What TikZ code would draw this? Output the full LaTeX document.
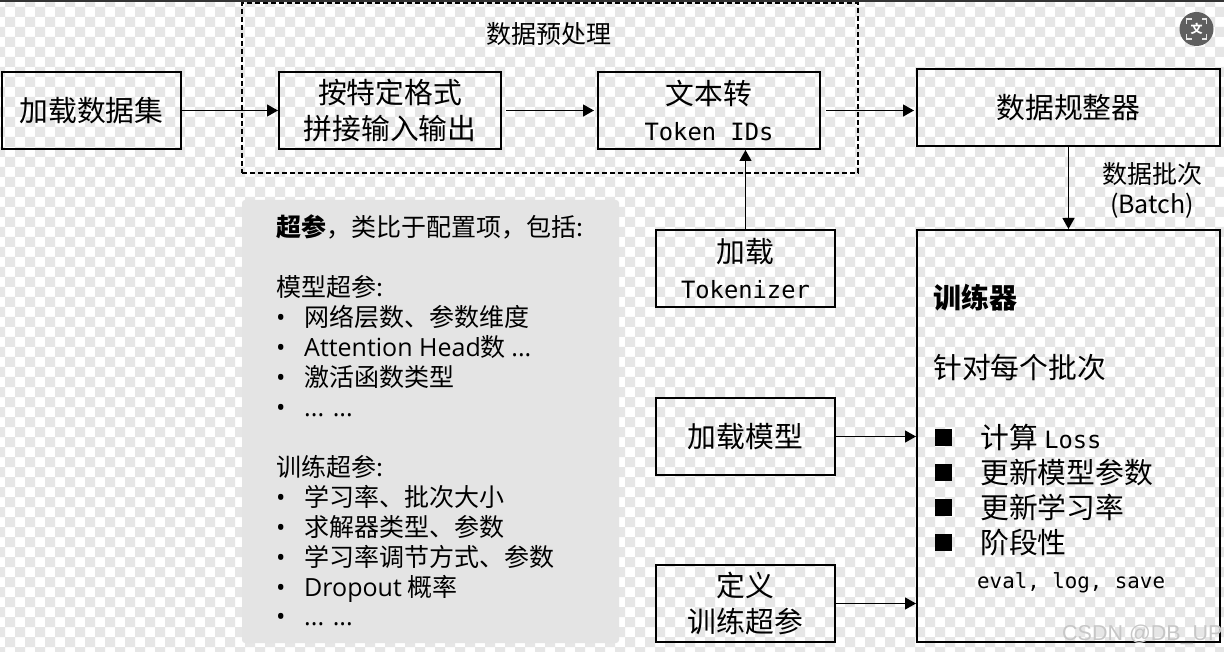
\documentclass[tikz,border=0pt]{standalone}
\usepackage{fontspec}
\usepackage{xcolor}
\usepackage{tikz}
\usetikzlibrary{arrows.meta}
\setmainfont{Noto Sans CJK SC}
\newfontfamily\tokenfam{DejaVu Sans Mono}
\newfontfamily\panelfam{Open Sans}
\newfontfamily\markfam{Liberation Sans}
\definecolor{checkgray}{RGB}{230,230,230}
\definecolor{panelgray}{RGB}{228,228,228}
\definecolor{icongray}{RGB}{95,95,95}
\newcommand{\tok}[1]{{\fontsize{23.8}{36}\selectfont\tokenfam #1}}
\newcommand{\hpitem}[1]{\makebox[28pt][l]{\panelfam •}#1}
\tikzset{
  databox/.style={draw=black, line width=2pt, align=center, inner sep=0pt,
    font=\fontsize{28.8}{36}\selectfont},
  flow/.style={-{Triangle[length=11pt,width=12pt]}, line width=1.2pt, black},
  trainline/.style={anchor=base west, inner sep=0pt, font=\fontsize{28.8}{36}\selectfont},
  hpline/.style={anchor=base west, inner sep=0pt, font=\fontsize{25}{30}\selectfont},
  tick/.style={fill=black, minimum size=17pt, inner sep=0pt}
}
\begin{document}
\begin{tikzpicture}[x=1pt,y=-1pt]
\clip (0,0) rectangle (1224,652);
\fill[white] (0,0) rectangle (1224,652);
\foreach \r [evaluate=\r as \rowshift using {5-10*mod(\r,2)}] in {0,...,66}
  \fill[checkgray] \foreach \c in {0,...,62} { ({\rowshift+20*\c},{10*\r-3}) rectangle +(10,10) };
\fill[black!80] (0,0) rectangle (1224,2);

\node[draw=black, line width=2pt, dash pattern=on 5pt off 3pt, minimum width=616pt, minimum height=170pt, inner sep=0pt] (preproc) at (550,88) {};
\node[font=\fontsize{25}{30}\selectfont] (preproclabel) at (548.5,34) {数据预处理};

\node[databox, minimum width=179pt, minimum height=77pt] (loaddata) at (91.5,110.5) {加载数据集};
\node[databox, minimum width=222pt, minimum height=77pt] (joinio) at (390,110.5) {按特定格式\\拼接输入输出};
\node[databox, minimum width=222pt, minimum height=77pt] (totokens) at (709,110.5) {文本转\\\tok{Token IDs}};
\node[databox, minimum width=303pt, minimum height=77pt] (collator) at (1068.5,107.5) {数据规整器};
\node[databox, minimum width=179pt, minimum height=77pt] (tokenizer) at (745.5,268.5) {加载\\\tok{Tokenizer}};
\node[databox, minimum width=179pt, minimum height=77pt] (loadmodel) at (745.5,436.5) {加载模型};
\node[databox, minimum width=179pt, minimum height=77pt] (trainhp) at (745.5,603.5) {定义\\训练超参};
\node[draw=black, line width=2pt, minimum width=303pt, minimum height=412pt, inner sep=0pt] (trainer) at (1068.5,436) {};

\draw[flow] (loaddata) -- (joinio);
\draw[flow, shorten <=4pt, shorten >=3pt] (joinio) -- (totokens);
\draw[flow, shorten <=5pt, shorten >=2pt] (totokens) -- (collator.west |- totokens);
\draw[flow] (tokenizer) -- (tokenizer |- totokens.south);
\draw[flow] (collator) -- (trainer);
\draw[flow] (loadmodel) -- (loadmodel -| trainer.west);
\draw[flow] (trainhp) -- (trainhp -| trainer.west);

\node[font=\fontsize{25}{30}\selectfont, align=center, inner sep=0pt] (batchlabel) at (1152,190) {数据批次\\(Batch)};

\node[fill=panelgray, rounded corners=3pt, minimum width=377pt, minimum height=443pt, inner sep=0pt] (hppanel) at (430.5,421.5) {};
\foreach \id/\basey/\linetxt in {
  a/236.5/{\textbf{超参}，类比于配置项，包括:},
  b/296.5/{模型超参:},
  c/326.5/{\hpitem{网络层数、参数维度}},
  d/356.5/{\hpitem{{\panelfam Attention Head}数 {\panelfam ...}}},
  e/386.5/{\hpitem{激活函数类型}},
  f/416/{\hpitem{\panelfam ... ...}},
  g/476.5/{训练超参:},
  h/506.5/{\hpitem{学习率、批次大小}},
  i/536.5/{\hpitem{求解器类型、参数}},
  j/566.5/{\hpitem{学习率调节方式、参数}},
  k/596.5/{\hpitem{{\panelfam Dropout} 概率}},
  l/625.5/{\hpitem{\panelfam ... ...}}}
  \node[hpline] (hp\id) at (276,\basey) {\linetxt};

\node[trainline, font=\fontsize{28}{36}\selectfont\bfseries] (trainertitle) at (933,308.5) {训练器};
\node[trainline] (perbatch) at (933,378.5) {针对每个批次};
\foreach \id/\basey/\linetxt in {
  loss/448/{计算 \tok{Loss}},
  params/483/{更新模型参数},
  lrate/518/{更新学习率},
  stage/553/{阶段性}} {
  \node[tick] (tick\id) at (943.5,\basey-10.5) {};
  \node[trainline] (step\id) at (980,\basey) {\linetxt};
}
\node[trainline, font=\fontsize{20.8}{30}\selectfont\tokenfam] (evalline) at (977,588) {eval, log, save};

\node[circle, fill=icongray, minimum size=34pt, inner sep=0pt, text=white, font=\fontsize{12}{12}\selectfont\bfseries] (transicon) at (1196.5,29) {文};
\foreach \sx/\sy in {-1/-1,1/-1,1/1,-1/1}
  \draw[white!85!icongray, line width=1.3pt] ([shift={(\sx*10,\sy*5)}]transicon.center) -- ([shift={(\sx*10,\sy*10)}]transicon.center) -- ([shift={(\sx*5,\sy*10)}]transicon.center);

\node[anchor=base west, inner sep=0pt, text=black!22, font=\fontsize{21.5}{26}\selectfont\markfam] (watermark) at (1062,640) {CSDN @DB\_UP};
\end{tikzpicture}
\end{document}
